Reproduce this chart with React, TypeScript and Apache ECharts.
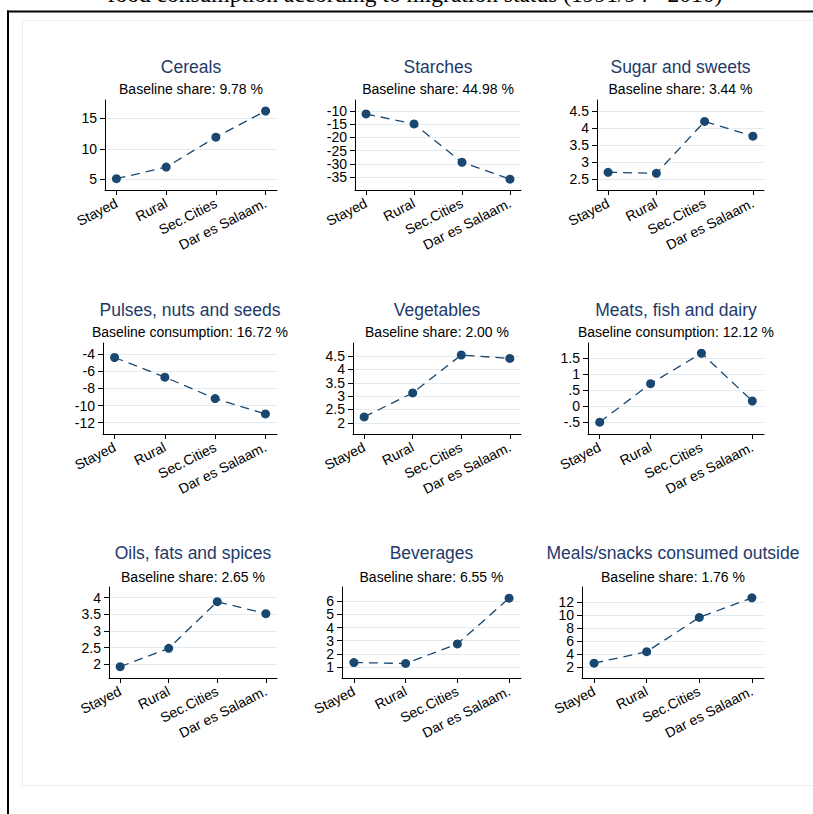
import React, { useEffect, useRef } from 'react';
import * as echarts from 'echarts';

const categories = ['Stayed', 'Rural', 'Sec.Cities', 'Dar es Salaam.'];

const panelTitles = [
  'Cereals',
  'Starches',
  'Sugar and sweets',
  'Pulses, nuts and seeds',
  'Vegetables',
  'Meats, fish and dairy',
  'Oils, fats and spices',
  'Beverages',
  'Meals/snacks consumed outside',
];

const panelSubtitles = [
  'Baseline share: 9.78 %',
  'Baseline share: 44.98 %',
  'Baseline share: 3.44 %',
  'Baseline consumption: 16.72 %',
  'Baseline share: 2.00 %',
  'Baseline consumption: 12.12 %',
  'Baseline share: 2.65 %',
  'Baseline share: 6.55 %',
  'Baseline share: 1.76 %',
];

const cereals = [5.1, 7.0, 11.9, 16.2];
const starches = [-11.1, -14.9, -29.4, -35.8];
const sugar = [2.7, 2.67, 4.19, 3.76];
const pulses = [-4.4, -6.69, -9.19, -10.98];
const vegetables = [2.22, 3.12, 4.54, 4.41];
const meats = [-0.49, 0.71, 1.66, 0.17];
const oils = [1.93, 2.48, 3.88, 3.52];
const beverages = [1.33, 1.26, 2.75, 6.25];
const meals = [2.57, 4.33, 9.6, 12.6];

const cerealsTicks = [5, 10, 15];
const starchesTicks = [-35, -30, -25, -20, -15, -10];
const sugarTicks = [2.5, 3, 3.5, 4, 4.5];
const pulsesTicks = [-12, -10, -8, -6, -4];
const vegetablesTicks = [2, 2.5, 3, 3.5, 4, 4.5];
const meatsTicks = [-0.5, 0, 0.5, 1, 1.5];
const oilsTicks = [2, 2.5, 3, 3.5, 4];
const beveragesTicks = [1, 2, 3, 4, 5, 6];
const mealsTicks = [2, 4, 6, 8, 10, 12];

const yRanges = [
  [3.25, 18.0],
  [-39.9, -5.83],
  [2.18, 4.82],
  [-13.32, -2.71],
  [1.58, 4.99],
  [-0.86, 1.98],
  [1.59, 4.32],
  [0.15, 7.1],
  [0.29, 14.27],
];

const mainTitle = 'food consumption according to migration status (1991/94 - 2010)';

const seriesValues = [cereals, starches, sugar, pulses, vegetables, meats, oils, beverages, meals];
const seriesTicks = [
  cerealsTicks, starchesTicks, sugarTicks, pulsesTicks, vegetablesTicks,
  meatsTicks, oilsTicks, beveragesTicks, mealsTicks,
];

const NAVY = '#1a476f';
const TITLE_COLOR = '#1e3a6b';
const GRID_COLOR = '#e3ebee';
const FONT = '"Liberation Sans", Arial, sans-serif';

const rowsTB = [
  [100, 190],
  [343, 434],
  [587, 678],
];
const lefts = [105, 355, 597, 103, 353, 588, 109, 342, 582];
const rights = [277, 521, 764];
const titleY = [67, 310, 553];
const subY = [89, 332, 576.5];

function fmtTick(v: number): string {
  return String(v).replace(/^(-?)0\./, '$1.');
}

export default function App() {
  const ref = useRef<HTMLDivElement>(null);

  useEffect(() => {
    if (!ref.current) return;
    const chart = echarts.init(ref.current, undefined, { renderer: 'svg' });

    const grids: any[] = [];
    const xAxes: any[] = [];
    const yAxes: any[] = [];
    const series: any[] = [];
    const graphics: any[] = [];

    graphics.push({
      type: 'line',
      shape: { x1: 7, y1: 11.5, x2: 813, y2: 11.5 },
      style: { stroke: '#000', lineWidth: 2 },
      silent: true,
    });
    graphics.push({
      type: 'line',
      shape: { x1: 8, y1: 10.5, x2: 8, y2: 814 },
      style: { stroke: '#000', lineWidth: 2 },
      silent: true,
    });
    graphics.push({
      type: 'rect',
      shape: { x: 22.5, y: 20.5, width: 800, height: 765 },
      style: { stroke: '#eaf1f3', fill: 'none', lineWidth: 1 },
      silent: true,
    });
    graphics.push({
      type: 'text',
      x: 415,
      y: -6.5,
      style: {
        text: mainTitle,
        fontFamily: '"Liberation Serif", "Times New Roman", serif',
        fontSize: 23.5,
        fill: '#000',
        align: 'center',
        verticalAlign: 'middle',
      },
      silent: true,
    });

    const yLabelStyle = {
      margin: 8,
      fontFamily: FONT,
      fontSize: 14,
      color: '#000',
      showMinLabel: true,
      showMaxLabel: true,
      hideOverlap: false,
      formatter: (v: number) => fmtTick(v),
    };

    for (let i = 0; i < 9; i++) {
      const row = Math.floor(i / 3);
      const col = i % 3;
      const L = lefts[i];
      const R = rights[col];
      const [T, B] = rowsTB[row];
      grids.push({
        left: L,
        top: T,
        width: R - L,
        height: B - T,
        containLabel: false,
        outerBoundsMode: 'none',
      });
      xAxes.push({
        type: 'value',
        gridIndex: i,
        min: -0.23,
        max: 3.23,
        axisLine: { show: true, onZero: false, lineStyle: { color: '#000', width: 1 } },
        axisTick: { show: true, length: 5, customValues: [0, 1, 2, 3], lineStyle: { color: '#000' } },
        axisLabel: {
          customValues: [0, 1, 2, 3],
          formatter: (v: number) => categories[Math.round(v)] ?? '',
          rotate: 27,
          margin: 12,
          fontFamily: FONT,
          fontSize: 14,
          color: '#000',
          hideOverlap: false,
        },
        splitLine: { show: false },
      });
      const ticks = seriesTicks[i];
      const evenTicks = ticks.filter((_, k) => k % 2 === 0);
      const oddTicks = ticks.filter((_, k) => k % 2 === 1);
      yAxes.push({
        type: 'value',
        gridIndex: i,
        position: 'left',
        min: yRanges[i][0],
        max: yRanges[i][1],
        axisLine: { show: true, onZero: false, lineStyle: { color: '#000', width: 1 } },
        axisTick: { show: true, length: 5, customValues: ticks, lineStyle: { color: '#000' } },
        axisLabel: { ...yLabelStyle, customValues: evenTicks },
        splitLine: { show: true, lineStyle: { color: GRID_COLOR, width: 1 } },
      });
      yAxes.push({
        type: 'value',
        gridIndex: i,
        position: 'left',
        offset: 0,
        min: yRanges[i][0],
        max: yRanges[i][1],
        axisLine: { show: false, onZero: false },
        axisTick: { show: false, customValues: oddTicks.length ? oddTicks : evenTicks },
        axisLabel: {
          ...yLabelStyle,
          show: oddTicks.length > 0,
          customValues: oddTicks.length ? oddTicks : evenTicks,
        },
        splitLine: { show: false },
      });
      series.push({
        type: 'line',
        xAxisIndex: i,
        yAxisIndex: 2 * i,
        data: seriesValues[i].map((v, j) => [j, v]),
        symbol: 'circle',
        symbolSize: 9,
        showSymbol: true,
        lineStyle: { color: NAVY, width: 1.3, type: [9, 6] },
        itemStyle: { color: NAVY },
        z: 3,
      });
      const cx = (L + R) / 2;
      graphics.push({
        type: 'text',
        x: cx,
        y: titleY[row],
        style: {
          text: panelTitles[i],
          fontFamily: FONT,
          fontSize: 17.5,
          fill: TITLE_COLOR,
          align: 'center',
          verticalAlign: 'middle',
        },
        silent: true,
      });
      graphics.push({
        type: 'text',
        x: cx,
        y: subY[row],
        style: {
          text: panelSubtitles[i],
          fontFamily: FONT,
          fontSize: 14,
          fill: '#000',
          align: 'center',
          verticalAlign: 'middle',
        },
        silent: true,
      });
    }

    chart.setOption({
      animation: false,
      backgroundColor: '#fff',
      grid: grids,
      xAxis: xAxes,
      yAxis: yAxes,
      series,
      graphic: { elements: graphics },
    });

    return () => {
      chart.dispose();
    };
  }, []);

  return (
    <div
      ref={ref}
      style={{ position: 'fixed', left: 0, top: 0, width: 813, height: 814 }}
    />
  );
}
